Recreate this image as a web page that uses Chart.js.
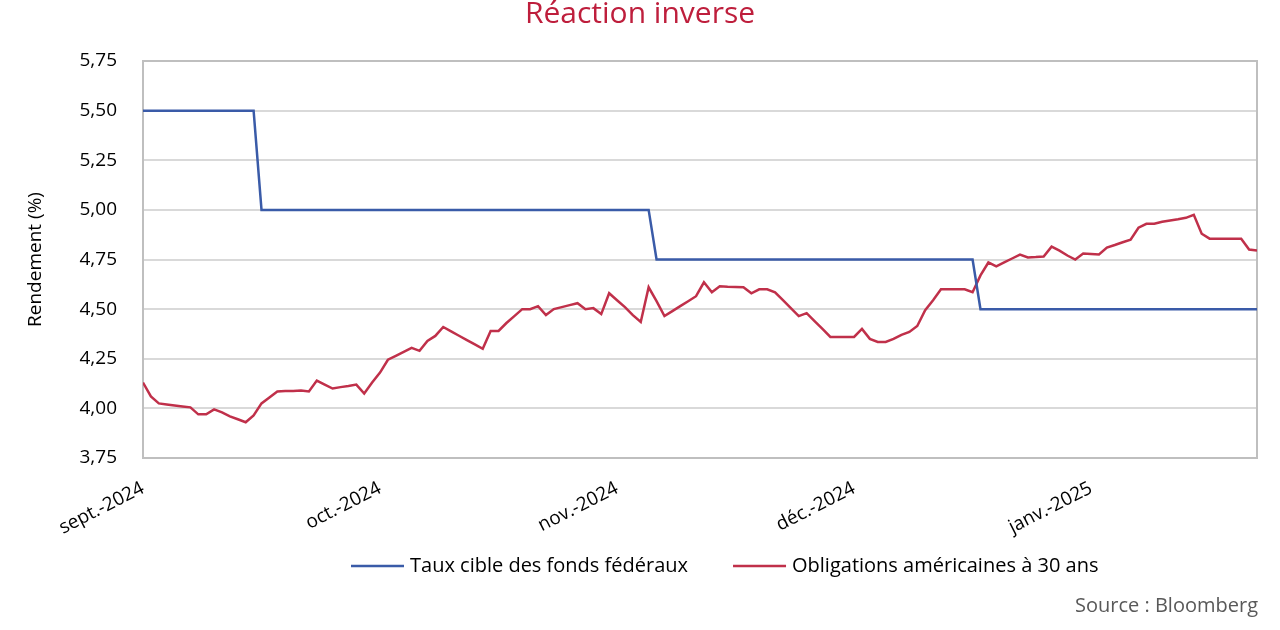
<!DOCTYPE html>
<html lang="fr">
<head>
<meta charset="utf-8">
<title>Réaction inverse</title>
<script src="https://cdn.jsdelivr.net/npm/chart.js@4.4.1/dist/chart.umd.min.js"></script>
<style>
  html, body { margin: 0; padding: 0; background: #fff; }
  #wrap { width: 1280px; height: 630px; }
</style>
</head>
<body>
<div id="wrap"><canvas id="chart" width="1280" height="630"></canvas></div>
<script>
// day index 0 = 4 sept. 2024, one point per calendar day
const dayTicks = [0, 30, 60, 90, 120];
const monthLabels = ['sept.-2024', 'oct.-2024', 'nov.-2024', 'déc.-2024', 'janv.-2025'];

// fed funds target: value at each change point
const fedDays = [0, 14, 15, 64, 65, 105, 106, 141];
const fedRate = [5.50, 5.50, 5.00, 5.00, 4.75, 4.75, 4.50, 4.50];

// US 30-year yield, daily
const bond30y = [
  4.13, 4.06, 4.025, 4.02, 4.015, 4.01, 4.005, 3.97, 3.97, 3.995,
  3.98, 3.96, 3.945, 3.93, 3.965, 4.025, 4.055, 4.085, 4.087, 4.088,
  4.09, 4.085, 4.14, 4.12, 4.10, 4.107, 4.113, 4.12, 4.075, 4.13,
  4.18, 4.245, 4.265, 4.285, 4.305, 4.29, 4.34, 4.365, 4.41, 4.388,
  4.366, 4.344, 4.322, 4.30, 4.39, 4.39, 4.43, 4.465, 4.50, 4.50,
  4.515, 4.47, 4.50, 4.51, 4.52, 4.53, 4.50, 4.505, 4.475, 4.58,
  4.545, 4.51, 4.47, 4.435, 4.61, 4.54, 4.465, 4.49, 4.515, 4.54,
  4.565, 4.635, 4.585, 4.615, 4.613, 4.612, 4.61, 4.58, 4.60, 4.60,
  4.585, 4.545, 4.505, 4.465, 4.48, 4.44, 4.40, 4.36, 4.36, 4.36,
  4.36, 4.40, 4.35, 4.335, 4.335, 4.35, 4.37, 4.385, 4.415, 4.495,
  4.545, 4.60, 4.60, 4.60, 4.60, 4.585, 4.67, 4.735, 4.715, 4.735,
  4.755, 4.775, 4.76, 4.762, 4.765, 4.815, 4.795, 4.77, 4.75, 4.78,
  4.778, 4.775, 4.81, 4.823, 4.837, 4.85, 4.91, 4.93, 4.93, 4.94,
  4.947, 4.953, 4.96, 4.975, 4.88, 4.855, 4.855, 4.855, 4.855, 4.855,
  4.80, 4.795
];

const BLUE = '#3A5BA8';
const RED = '#C0304A';
const FONT = "'Open Sans', 'Noto Sans', sans-serif";

Chart.defaults.font.family = FONT;
Chart.defaults.color = '#000';

// grey frame round the plot area
const frame = {
  id: 'frame',
  beforeDatasetsDraw(chart) {
    const { ctx, chartArea: a } = chart;
    ctx.save();
    ctx.strokeStyle = '#BFBFBF';
    ctx.lineWidth = 2;
    ctx.strokeRect(a.left, a.top, a.right - a.left, a.bottom - a.top);
    ctx.restore();
  }
};

// title on the page centre, legend row and source line
const texts = {
  id: 'texts',
  afterDraw(chart) {
    const ctx = chart.ctx;
    ctx.save();
    ctx.textBaseline = 'middle';

    ctx.font = '30px ' + FONT;
    ctx.fillStyle = '#BE1E3C';
    ctx.textAlign = 'center';
    ctx.fillText('Réaction inverse', 640, 14);

    ctx.font = '20px ' + FONT;
    let x = 351;
    const y = 566;
    chart.data.datasets.forEach(ds => {
      ctx.strokeStyle = ds.borderColor;
      ctx.lineWidth = ds.borderWidth;
      ctx.beginPath();
      ctx.moveTo(x, y);
      ctx.lineTo(x + 53, y);
      ctx.stroke();
      ctx.fillStyle = '#000';
      ctx.textAlign = 'left';
      ctx.fillText(ds.label, x + 59, y);
      x += 59 + ctx.measureText(ds.label).width + 45;
    });

    ctx.fillStyle = '#595959';
    ctx.textAlign = 'right';
    ctx.fillText('Source : Bloomberg', 1258, 606);
    ctx.restore();
  }
};

new Chart(document.getElementById('chart'), {
  type: 'line',
  data: {
    datasets: [
      {
        label: 'Taux cible des fonds fédéraux',
        data: fedDays.map((d, i) => ({ x: d, y: fedRate[i] })),
        borderColor: BLUE,
        backgroundColor: BLUE,
        borderWidth: 2.5,
        pointRadius: 0
      },
      {
        label: 'Obligations américaines à 30 ans',
        data: bond30y.map((v, i) => ({ x: i, y: v })),
        borderColor: RED,
        backgroundColor: RED,
        borderWidth: 2.5,
        pointRadius: 0
      }
    ]
  },
  options: {
    responsive: false,
    animation: false,
    layout: { padding: { left: 0, right: 23, top: 61, bottom: 0 } },
    plugins: {
      title: { display: false },
      legend: { display: false },
      tooltip: { enabled: false }
    },
    scales: {
      x: {
        type: 'linear',
        min: 0,
        max: 141,
        afterBuildTicks: axis => { axis.ticks = dayTicks.map(v => ({ value: v })); },
        afterFit: axis => { axis.height = 172; },
        grid: { display: false },
        border: { display: false },
        ticks: {
          autoSkip: false,
          minRotation: 27,
          maxRotation: 27,
          padding: 11,
          font: { size: 19 },
          callback: v => monthLabels[dayTicks.indexOf(v)] || ''
        }
      },
      y: {
        min: 3.75,
        max: 5.75,
        afterFit: axis => { axis.width = 143; },
        grid: { color: '#D9D9D9', lineWidth: 2, drawTicks: false },
        border: { display: false },
        ticks: {
          stepSize: 0.25,
          padding: 26,
          font: { size: 19 },
          callback: v => v.toFixed(2).replace('.', ',')
        },
        title: {
          display: true,
          text: 'Rendement (%)',
          font: { size: 19 },
          padding: { top: 24, bottom: 0 }
        }
      }
    }
  },
  plugins: [frame, texts]
});
</script>
</body>
</html>
